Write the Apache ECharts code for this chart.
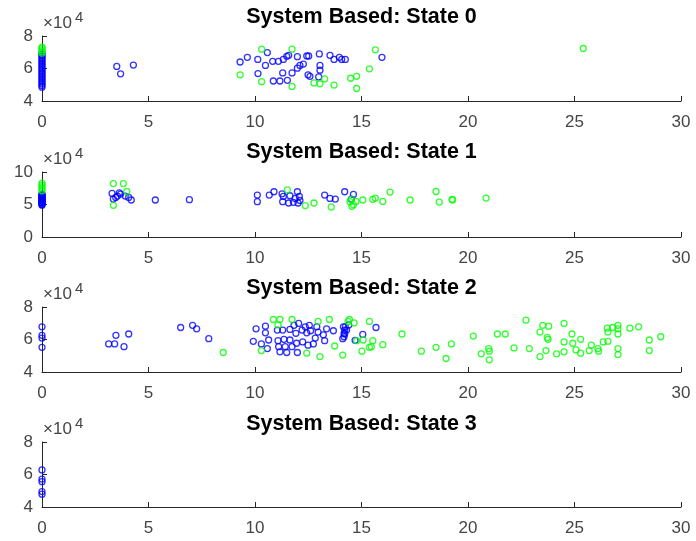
<!DOCTYPE html>
<html>
<head>
<meta charset="utf-8">
<script src="https://cdn.jsdelivr.net/npm/echarts@6/dist/echarts.min.js"></script>
<style>
html,body{margin:0;padding:0;background:#fff;}
#chart{width:696px;height:541px;}
</style>
</head>
<body>
<div id="chart"></div>
<script>
// ---------- data (x = value, y = value in raw units) ----------
const titles = ['System Based: State 0', 'System Based: State 1', 'System Based: State 2', 'System Based: State 3'];
const xTicks = [0, 5, 10, 15, 20, 25, 30];
const yRanges = [[40000, 80000, 20000], [0, 100000, 50000], [40000, 80000, 20000], [40000, 80000, 20000]];

// State 0
const s0Blue = [
  [0,48500],[0,49500],[0,50500],[0,51500],[0,52500],[0,53500],[0,54500],[0,55500],[0,56500],[0,57500],
  [0,58500],[0,59500],[0,60500],[0,61500],[0,62500],[0,63500],[0,64500],[0,65500],[0,66500],[0,67500],[0,68500],[0,69500],
  [3.51,61300],[3.69,56700],[4.29,62100],
  [9.30,64000],[9.64,66900],[10.13,65600],[10.58,69800],[10.49,61900],[10.83,64400],[11.10,64400],[11.33,65600],
  [11.49,67500],[11.58,68100],[11.99,67300],[12.43,67700],[12.52,67700],[13.02,69000],[13.52,68100],[13.71,65600],
  [13.96,66900],[14.07,65600],[14.24,65600],[10.14,56900],[10.86,52300],[11.17,52300],[11.52,52700],[11.30,57300],
  [11.74,57300],[11.99,60200],[12.11,61900],[12.27,62700],[12.49,56100],[12.58,55200],[13.05,61900],[13.05,59000],
  [12.99,54800],[15.96,66900]
];
const s0Green = [
  [0,69500],[0,70500],[0,71500],[0,72500],[0,73200],
  [10.31,71900],[11.74,71900],[9.30,56100],[10.31,51900],[11.74,49000],[12.77,51100],[13.05,50600],[13.27,53600],
  [13.71,49800],[14.49,54000],[14.77,55200],[14.77,47700],[15.37,59800],[15.65,71500],[25.41,72300]
];

// State 1
const s1Blue = [
  [0,49000],[0,50000],[0,51000],[0,52000],[0,53000],[0,54000],[0,55000],[0,56000],[0,57000],[0,58000],
  [0,59000],[0,60000],[0,61000],[0,62000],[0,63000],[0,64000],[0,65000],[0,66000],
  [3.29,67000],[3.35,58400],[3.54,63000],[3.63,68000],[3.69,66000],[3.91,63000],[4.07,60900],[4.19,56900],[3.46,60900],
  [5.32,56900],[6.92,57400],
  [10.11,64500],[10.11,54300],[10.67,64500],[10.89,69600],[11.27,66500],[11.33,62400],[11.30,54300],[11.58,52300],
  [11.80,53300],[12.02,52300],[11.64,63500],[11.99,69600],[12.08,62400],[12.11,56300],[11.89,59400],[13.27,64500],
  [13.52,59400],[13.77,58400],[14.21,69600],[14.62,65500],[14.52,58400]
];
const s1Green = [
  [0,83000],[0,80000],[0,77000],[0,74000],[0,71000],
  [3.35,82200],[3.82,82200],[3.98,70000],[3.35,48700],[11.52,72600],[12.36,48300],[12.77,52300],[13.58,46300],
  [14.46,54300],[14.55,47200],[14.52,57900],[14.62,49800],[14.74,54800],[15.06,56900],[15.53,57900],[15.65,59900],
  [16.00,54800],[16.34,69100],[17.28,56900],[18.50,70000],[18.65,53800],[19.25,57900],[19.28,56900],[20.85,59900]
];

// State 2
const s2Blue = [
  [0,67800],[0,62600],[0,60900],[0,55200],
  [3.13,57300],[3.41,57300],[3.47,62600],[3.85,55600],[4.07,63400],[6.51,67400],[7.07,68700],[7.26,66600],[7.83,60500],
  [10.05,66600],[9.92,58900],[10.30,57300],[10.49,68200],[10.49,64100],[10.64,59700],[10.58,54400],[11.05,65800],
  [11.08,59300],[11.11,55600],[11.17,52400],[11.30,65800],[11.36,60100],[11.42,55600],[11.49,52000],[11.64,66200],
  [11.64,59700],[11.74,55600],[11.83,68700],[11.92,63800],[11.95,57700],[11.99,52000],[12.05,69900],[12.21,65800],
  [12.24,58500],[12.36,67800],[12.43,64100],[12.49,56500],[12.55,68700],[12.61,65400],[12.74,57300],[12.83,60900],
  [12.90,67800],[12.96,64600],[13.21,62900],[13.27,59300],[13.36,66600],[13.68,65400],[14.18,63800],[14.18,61700],
  [14.24,67800],[14.30,65800],[14.40,69000],[14.15,67800],[14.21,65800],[14.12,60500],[14.21,63400],[14.70,59500],
  [15.06,63100],[15.68,67400]
];
const s2Green = [
  [8.51,52000],[10.30,53200],[10.86,72300],[11.17,72300],[11.08,69000],[11.74,72300],[12.43,51600],[12.96,71100],
  [13.05,49500],[13.49,72300],[13.74,56000],[14.12,50400],[14.43,72300],[14.37,71100],[14.65,70200],[14.77,59300],
  [15.02,52800],[15.08,59700],[15.37,71100],[15.53,59300],[15.46,55600],[15.37,55200],[16.00,56800],[16.90,63400],
  [17.81,52800],[18.50,55200],[18.97,48300],[19.22,57300],[20.25,62100],[20.62,51200],[20.97,54400],[21.00,52800],
  [21.00,47500],[21.38,63400],[21.75,63400],[22.16,54800],[22.72,71900],[22.88,54400],[23.38,64600],[23.51,68700],
  [23.79,68200],[23.72,61300],[23.76,60100],[23.38,49500],[23.66,53200],[24.16,51200],[24.51,69900],[24.51,52400],
  [24.51,58500],[24.88,63400],[24.92,57700],[25.07,53600],[25.29,60100],[25.29,51600],[25.69,53200],[25.79,56500],
  [26.10,54400],[26.13,52800],[26.35,58500],[26.57,58900],[26.54,67000],[26.57,64600],[26.79,67400],[27.04,68700],
  [27.04,66600],[27.04,63400],[27.04,54400],[27.04,50700],[27.60,67000],[28.01,67800],[28.51,59700],[28.51,53200],
  [29.05,61700]
];

// State 3
const s3Blue = [[0,62800],[0,57200],[0,55600],[0,49500],[0,47900]];
const s3Green = [];

const blueSets = [s0Blue, s1Blue, s2Blue, s3Blue];
const greenSets = [s0Green, s1Green, s2Green, s3Green];

// ---------- layout / style ----------
const gridTops = [36, 172, 307, 442];
const gridLeft = 42, gridWidth = 639, gridHeight = 65;
const axisColor = '#262626';
const labelColor = '#454545';
const fontFam = '"Liberation Sans", Arial, Helvetica, sans-serif';

const chart = echarts.init(document.getElementById('chart'), null, {renderer: 'canvas'});

const grids = gridTops.map(t => ({left: gridLeft, top: t, width: gridWidth, height: gridHeight}));
const xAxes = gridTops.map((t, i) => ({
  gridIndex: i, type: 'value', min: xTicks[0], max: xTicks[xTicks.length - 1], interval: xTicks[1] - xTicks[0],
  axisLine: {show: true, onZero: false, lineStyle: {color: axisColor, width: 1}},
  axisTick: {show: true, inside: true, length: 5, lineStyle: {color: axisColor}},
  axisLabel: {show: true, fontSize: 17, color: labelColor, margin: 13, fontFamily: fontFam, showMinLabel: true, showMaxLabel: true},
  splitLine: {show: false}
}));
const yAxes = yRanges.map((r, i) => ({
  gridIndex: i, type: 'value', min: r[0], max: r[1], interval: r[2],
  axisLine: {show: true, onZero: false, lineStyle: {color: axisColor, width: 1}},
  axisTick: {show: true, inside: true, length: 5, lineStyle: {color: axisColor}},
  axisLabel: {show: true, fontSize: 17, color: labelColor, margin: 9, fontFamily: fontFam,
    showMinLabel: true, showMaxLabel: true, formatter: v => String(v / 10000)},
  splitLine: {show: false}
}));

const series = [];
for (let i = 0; i < 4; i++) {
  series.push({
    type: 'scatter', xAxisIndex: i, yAxisIndex: i, data: blueSets[i],
    symbol: 'circle', symbolSize: 6,
    itemStyle: {color: 'rgba(0,0,0,0)', borderColor: '#0000ff', borderWidth: 1.3},
    silent: true
  });
  series.push({
    type: 'scatter', xAxisIndex: i, yAxisIndex: i, data: greenSets[i],
    symbol: 'circle', symbolSize: 6,
    itemStyle: {color: 'rgba(0,0,0,0)', borderColor: '#00ff00', borderWidth: 1.3},
    silent: true
  });
}

const titleCenters = [17, 152, 288, 424];
const titleOpts = titles.map((t, i) => ({
  text: t, left: gridLeft + gridWidth / 2, top: titleCenters[i] - 11, textAlign: 'center', padding: 0,
  textStyle: {fontSize: 21.5, fontWeight: 'bold', color: '#000', fontFamily: fontFam, lineHeight: 22}
}));

const graphics = [];
gridTops.forEach(t => {
  graphics.push({type: 'text', left: 43, top: t - 21, silent: true,
    style: {text: '×10', fontSize: 17, fill: labelColor, fontFamily: fontFam}});
  graphics.push({type: 'text', left: 75, top: t - 26, silent: true,
    style: {text: '4', fontSize: 15, fill: labelColor, fontFamily: fontFam}});
});

chart.setOption({
  animation: false,
  backgroundColor: '#fff',
  title: titleOpts,
  grid: grids,
  xAxis: xAxes,
  yAxis: yAxes,
  series: series,
  graphic: graphics
});
</script>
</body>
</html>
